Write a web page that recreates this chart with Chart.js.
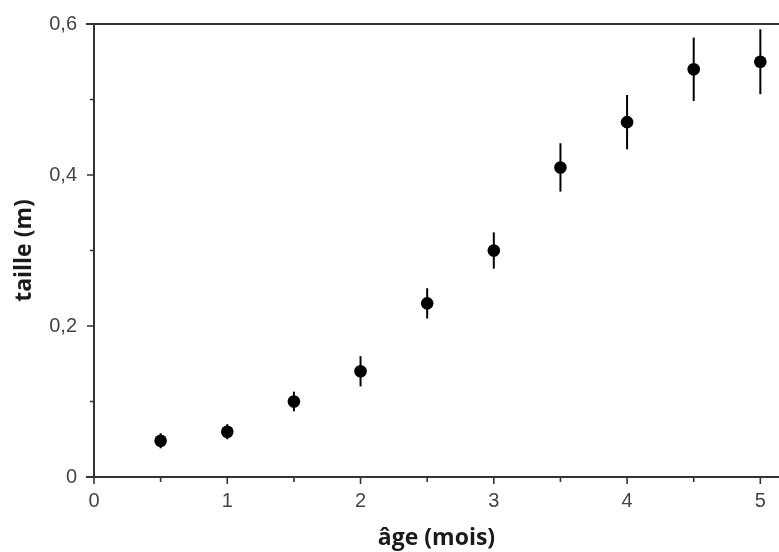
<!DOCTYPE html>
<html>
<head>
<meta charset="utf-8">
<script src="https://cdn.jsdelivr.net/npm/chart.js@4/dist/chart.umd.min.js"></script>
<style>
  html, body { margin: 0; padding: 0; background: #ffffff; }
  #wrap { width: 779px; height: 552px; position: relative; }
</style>
</head>
<body>
<div id="wrap"><canvas id="c" width="779" height="552"></canvas></div>
<script>
// ---- data ----
const ages   = [0.5, 1, 1.5, 2, 2.5, 3, 3.5, 4, 4.5, 5];            // âge (mois)
const sizes  = [0.048, 0.06, 0.10, 0.14, 0.23, 0.30, 0.41, 0.47, 0.54, 0.55]; // taille (m)
const errors = [0.010, 0.010, 0.013, 0.020, 0.020, 0.024, 0.032, 0.036, 0.042, 0.043];

const xMajorTicks = [0, 1, 2, 3, 4, 5];
const xMinorTicks = [0.5, 1.5, 2.5, 3.5, 4.5];
const yMajorTicks = [0, 0.2, 0.4, 0.6];
const yMinorTicks = [0.1, 0.3, 0.5];

const xTitle = 'âge (mois)';
const yTitle = 'taille (m)';

const AXIS_COLOR = '#333333';

const points = ages.map((a, i) => ({ x: a, y: sizes[i] }));

const errorBars = {
  id: 'errorBars',
  beforeDatasetsDraw(chart) {
    const ctx = chart.ctx, xs = chart.scales.x, ys = chart.scales.y;
    ctx.save();
    ctx.strokeStyle = '#000000';
    ctx.lineWidth = 2;
    ages.forEach((a, i) => {
      const px = xs.getPixelForValue(a);
      ctx.beginPath();
      ctx.moveTo(px, ys.getPixelForValue(sizes[i] - errors[i]));
      ctx.lineTo(px, ys.getPixelForValue(sizes[i] + errors[i]));
      ctx.stroke();
    });
    ctx.restore();
  }
};

const axesFrame = {
  id: 'axesFrame',
  afterDraw(chart) {
    const ctx = chart.ctx, xs = chart.scales.x, ys = chart.scales.y;
    const a = chart.chartArea;
    ctx.save();
    ctx.strokeStyle = AXIS_COLOR;
    ctx.lineWidth = 2;
    ctx.beginPath();
    ctx.moveTo(a.left, a.top - 1);
    ctx.lineTo(a.left, a.bottom + 1);
    ctx.moveTo(a.left - 8, a.bottom);
    ctx.lineTo(a.right, a.bottom);
    ctx.moveTo(a.left - 8, a.top);
    ctx.lineTo(a.right, a.top);
    ctx.stroke();
    ctx.lineWidth = 1.6;
    ctx.beginPath();
    yMajorTicks.forEach(v => { const p = ys.getPixelForValue(v); ctx.moveTo(a.left - 7, p); ctx.lineTo(a.left, p); });
    yMinorTicks.forEach(v => { const p = ys.getPixelForValue(v); ctx.moveTo(a.left - 4, p); ctx.lineTo(a.left, p); });
    xMajorTicks.forEach(v => { const p = xs.getPixelForValue(v); ctx.moveTo(p, a.bottom); ctx.lineTo(p, a.bottom + 7); });
    xMinorTicks.forEach(v => { const p = xs.getPixelForValue(v); ctx.moveTo(p, a.bottom); ctx.lineTo(p, a.bottom + 5); });
    ctx.stroke();
    ctx.restore();
  }
};

new Chart(document.getElementById('c'), {
  type: 'scatter',
  data: {
    datasets: [{
      data: points,
      backgroundColor: '#000000',
      borderColor: '#000000',
      pointRadius: 6.3,
      pointHoverRadius: 6.3,
      borderWidth: 0
    }]
  },
  options: {
    responsive: false,
    animation: false,
    events: [],
    layout: { autoPadding: false, padding: { top: 24, right: 0, left: 0, bottom: 0 } },
    plugins: { legend: { display: false }, tooltip: { enabled: false } },
    scales: {
      x: {
        type: 'linear',
        min: 0,
        max: 5.14,
        afterFit(s) { s.height = 75; s.paddingLeft = 0; s.paddingRight = 0; },
        afterBuildTicks(s) { s.ticks = xMajorTicks.map(v => ({ value: v })); },
        border: { display: false },
        grid: { display: true, drawOnChartArea: false, tickLength: 7, tickColor: 'rgba(0,0,0,0)' },
        ticks: {
          padding: 5,
          color: '#444444',
          font: { family: "'Liberation Sans', Arial, sans-serif", size: 20 },
          callback: v => String(v),
          maxRotation: 0
        },
        title: {
          display: true,
          text: xTitle,
          color: '#1a1a1a',
          font: { family: "'Open Sans', sans-serif", size: 23, weight: 'bold' },
          padding: { top: 0, bottom: 0 }
        }
      },
      y: {
        type: 'linear',
        min: 0,
        max: 0.6,
        afterFit(s) { s.width = 94; s.paddingTop = 0; s.paddingBottom = 0; },
        afterBuildTicks(s) { s.ticks = yMajorTicks.map(v => ({ value: v })); },
        border: { display: false },
        grid: { display: true, drawOnChartArea: false, tickLength: 7, tickColor: 'rgba(0,0,0,0)' },
        ticks: {
          padding: 10,
          color: '#444444',
          font: { family: "'Liberation Sans', Arial, sans-serif", size: 20 },
          callback: v => (v === 0 ? '0' : v.toFixed(1).replace('.', ','))
        },
        title: {
          display: true,
          text: yTitle,
          color: '#1a1a1a',
          font: { family: "'Open Sans', sans-serif", size: 23, weight: 'bold' },
          padding: { top: 11, bottom: 0 }
        }
      }
    }
  },
  plugins: [errorBars, axesFrame]
});
</script>
</body>
</html>
